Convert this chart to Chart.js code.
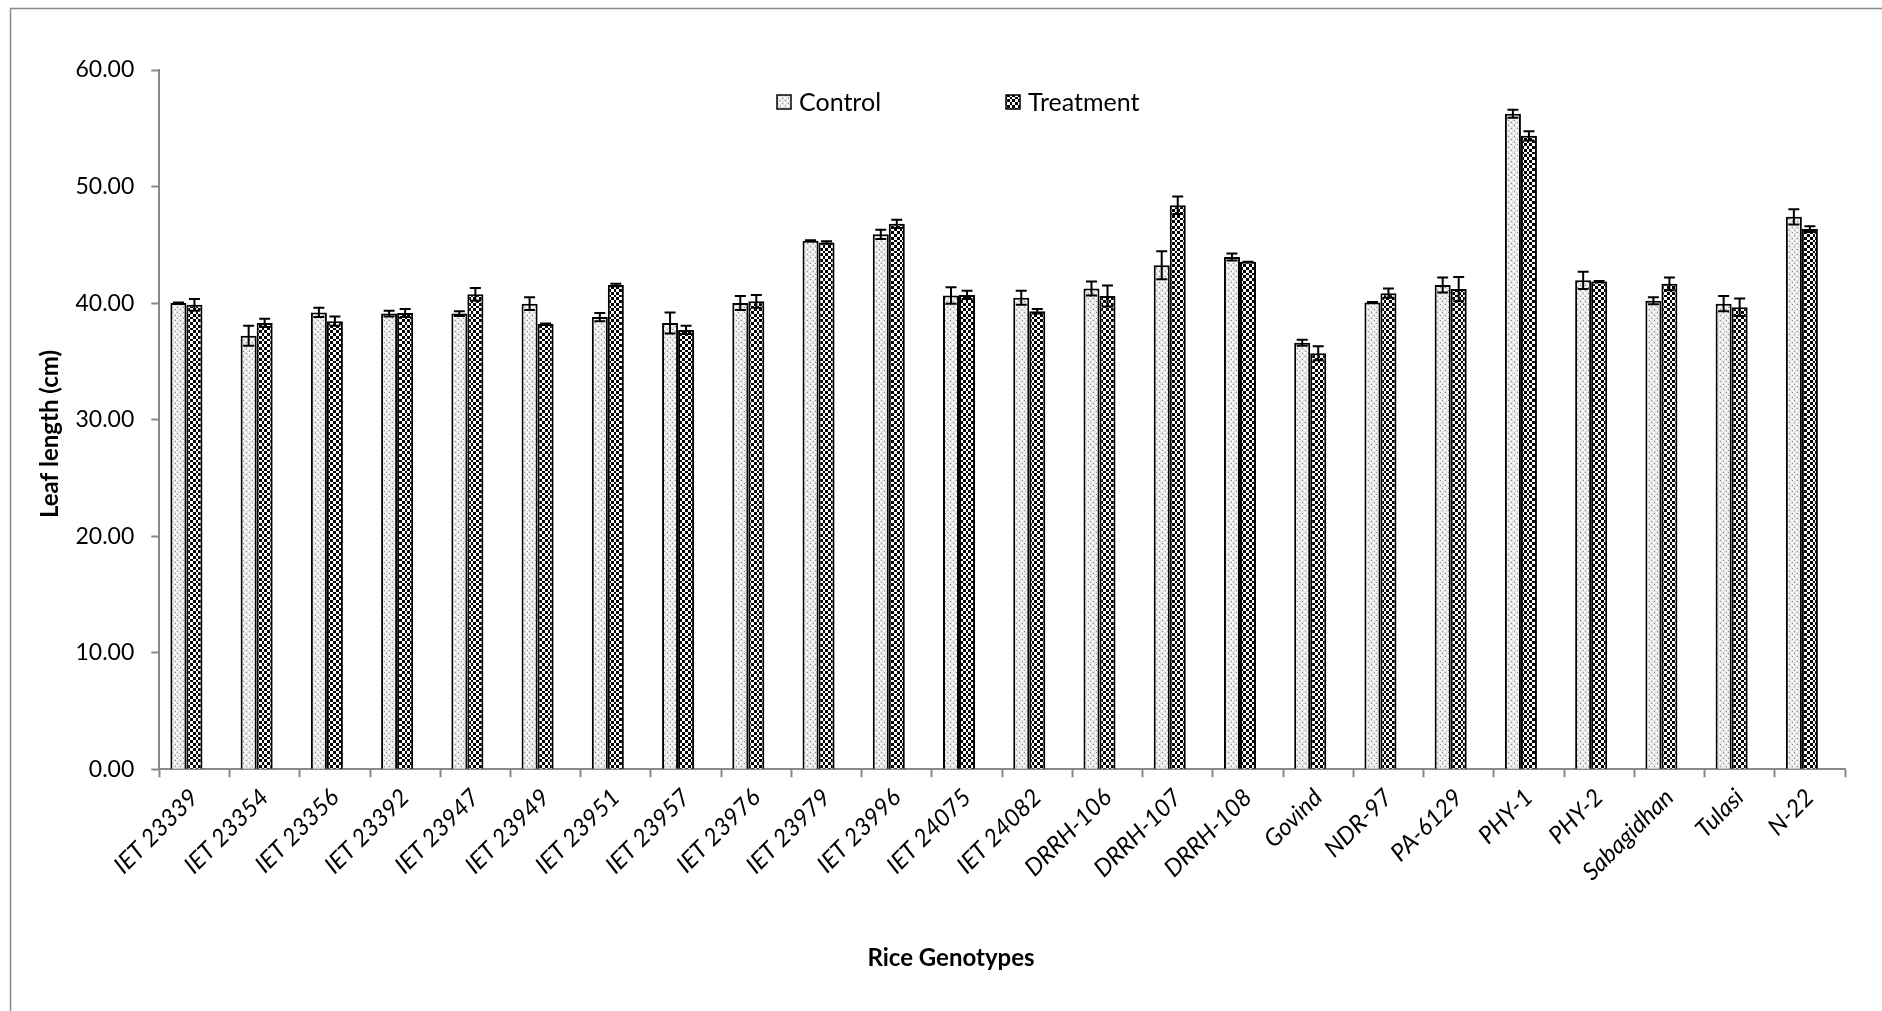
<!DOCTYPE html>
<html>
<head>
<meta charset="utf-8">
<title>Leaf length of rice genotypes</title>
<script src="https://cdn.jsdelivr.net/npm/chart.js@4.4.1/dist/chart.umd.min.js"></script>
<style>
  html, body { margin: 0; padding: 0; background: #ffffff; }
  #wrap { position: relative; width: 1882px; height: 1011px; }
</style>
</head>
<body>
<div id="wrap"><canvas id="chart" width="1882" height="1011"></canvas></div>
<script>
// Rice genotypes on the category axis
const genotypes = [
  'IET 23339', 'IET 23354', 'IET 23356', 'IET 23392', 'IET 23947', 'IET 23949',
  'IET 23951', 'IET 23957', 'IET 23976', 'IET 23979', 'IET 23996', 'IET 24075',
  'IET 24082', 'DRRH-106', 'DRRH-107', 'DRRH-108', 'Govind', 'NDR-97',
  'PA-6129', 'PHY-1', 'PHY-2', 'Sabagidhan', 'Tulasi', 'N-22'
];

// Mean leaf length (cm)
const controlMeans = [
  40.0, 37.2, 39.2, 39.1, 39.1, 39.95, 38.8, 38.3, 40.0, 45.35, 45.9, 40.65,
  40.45, 41.25, 43.25, 43.95, 36.6, 40.05, 41.55, 56.25, 41.95, 40.2, 39.95, 47.4
];
const treatmentMeans = [
  39.85, 38.3, 38.45, 39.15, 40.75, 38.2, 41.55, 37.7, 40.15, 45.2, 46.8, 40.7,
  39.3, 40.6, 48.4, 43.55, 35.7, 40.85, 41.2, 54.35, 41.85, 41.65, 39.65, 46.35
];

// Standard error of each mean (cm)
const controlErrors = [
  0.05, 0.85, 0.4, 0.25, 0.2, 0.55, 0.35, 0.9, 0.6, 0.05, 0.4, 0.7,
  0.6, 0.6, 1.2, 0.3, 0.25, 0.05, 0.65, 0.35, 0.75, 0.3, 0.65, 0.65
];
const treatmentErrors = [
  0.5, 0.35, 0.4, 0.35, 0.55, 0.05, 0.1, 0.35, 0.55, 0.1, 0.35, 0.35,
  0.2, 0.9, 0.75, 0.0, 0.6, 0.4, 1.05, 0.4, 0.05, 0.55, 0.75, 0.25
];

const seriesNames = ['Control', 'Treatment'];
const yTicks = [0, 10, 20, 30, 40, 50, 60];

const FONT = 'Lato, "Open Sans", "DejaVu Sans", sans-serif';
const AXIS_GREY = '#898989';

// cell edges inside one 11 px tile: four cells, so the checker repeats cleanly
const CELL_EDGES = [0, 3, 6, 9, 11];

// Fine dotted fill for the control bars
function dottedPattern(ctx) {
  const c = document.createElement('canvas');
  c.width = 11; c.height = 11;
  const g = c.getContext('2d');
  g.fillStyle = '#e4e4e4';
  g.fillRect(0, 0, 11, 11);
  for (let i = 0; i < 4; i++) {
    for (let j = 0; j < 4; j++) {
      const x = CELL_EDGES[i], y = CELL_EDGES[j];
      if ((i + j) % 2 === 0) {
        g.fillStyle = '#ffffff';
        g.fillRect(x, y, 2, 2);
      } else {
        g.fillStyle = '#8a8a8a';
        g.fillRect(x + 1, y + 1, 1, 1);
      }
    }
  }
  return ctx.createPattern(c, 'repeat');
}

// Black and white checkerboard fill for the treatment bars
function checkerPattern(ctx) {
  const c = document.createElement('canvas');
  c.width = 11; c.height = 11;
  const g = c.getContext('2d');
  g.fillStyle = '#ffffff';
  g.fillRect(0, 0, 11, 11);
  g.fillStyle = '#000000';
  for (let i = 0; i < 4; i++) {
    for (let j = 0; j < 4; j++) {
      if ((i + j) % 2 === 0) {
        g.fillRect(CELL_EDGES[i], CELL_EDGES[j],
          CELL_EDGES[i + 1] - CELL_EDGES[i], CELL_EDGES[j + 1] - CELL_EDGES[j]);
      }
    }
  }
  return ctx.createPattern(c, 'repeat');
}

const canvas = document.getElementById('chart');
const ctx = canvas.getContext('2d');
const controlFill = dottedPattern(ctx);
const treatmentFill = checkerPattern(ctx);

// Vertical error bars with caps, positioned from each bar element and the y scale
const errorBars = {
  id: 'errorBars',
  afterDatasetsDraw(chart, args, opts) {
    const { ctx } = chart;
    const y = chart.scales.y;
    const errs = [controlErrors, treatmentErrors];
    const means = [controlMeans, treatmentMeans];
    ctx.save();
    ctx.strokeStyle = '#000000';
    ctx.lineWidth = opts.lineWidth;
    for (let d = 0; d < 2; d++) {
      const meta = chart.getDatasetMeta(d);
      meta.data.forEach((bar, i) => {
        const hi = y.getPixelForValue(means[d][i] + errs[d][i]);
        const lo = y.getPixelForValue(means[d][i] - errs[d][i]);
        const x = bar.x;
        ctx.beginPath();
        ctx.moveTo(x, hi); ctx.lineTo(x, lo);
        ctx.moveTo(x - opts.cap, hi); ctx.lineTo(x + opts.cap, hi);
        ctx.moveTo(x - opts.cap, lo); ctx.lineTo(x + opts.cap, lo);
        ctx.stroke();
      });
    }
    ctx.restore();
  }
};

// Outer frame, legend inside the plot and the two axis titles
const decorations = {
  id: 'decorations',
  beforeDraw(chart) {
    const { ctx } = chart;
    ctx.save();
    ctx.fillStyle = '#ffffff';
    ctx.fillRect(0, 0, chart.width, chart.height);
    ctx.strokeStyle = AXIS_GREY;
    ctx.lineWidth = 1.5;
    ctx.strokeRect(10.5, 8.5, chart.width + 20, chart.height + 20);
    ctx.restore();
  },
  afterDraw(chart, args, opts) {
    const { ctx } = chart;
    ctx.save();
    ctx.font = '25px ' + FONT;
    ctx.textBaseline = 'middle';
    ctx.textAlign = 'left';
    opts.legendItems.forEach((item, k) => {
      const ds = chart.data.datasets[k];
      ctx.fillStyle = ds.backgroundColor;
      ctx.fillRect(item.x, item.y - 7, 14, 14);
      ctx.strokeStyle = '#000000';
      ctx.lineWidth = 1.5;
      ctx.strokeRect(item.x, item.y - 7, 14, 14);
      ctx.fillStyle = '#000000';
      ctx.fillText(ds.label, item.x + 22, item.y + 1);
    });
    ctx.font = 'bold 24px ' + FONT;
    ctx.textAlign = 'center';
    ctx.fillText('Rice Genotypes', opts.xTitle.x, opts.xTitle.y);
    ctx.translate(opts.yTitle.x, opts.yTitle.y);
    ctx.rotate(-Math.PI / 2);
    ctx.fillText('Leaf length (cm)', 0, 0);
    ctx.restore();
  }
};

new Chart(ctx, {
  type: 'bar',
  data: {
    labels: genotypes,
    datasets: [
      {
        label: seriesNames[0],
        data: controlMeans,
        backgroundColor: controlFill,
        borderColor: '#000000',
        borderWidth: 2,
        borderSkipped: 'start'
      },
      {
        label: seriesNames[1],
        data: treatmentMeans,
        backgroundColor: treatmentFill,
        borderColor: '#000000',
        borderWidth: 2,
        borderSkipped: 'start'
      },
      // empty third slot keeps the pair left of centre in each category
      { label: '', data: [] }
    ]
  },
  options: {
    responsive: false,
    animation: false,
    devicePixelRatio: 1,
    layout: { padding: { left: 20, right: 37, top: 70, bottom: 0 } },
    datasets: { bar: { categoryPercentage: 0.684, barPercentage: 1 } },
    plugins: {
      legend: { display: false },
      tooltip: { enabled: false },
      errorBars: { lineWidth: 2, cap: 5.5 },
      decorations: {
        legendItems: [{ x: 777, y: 102 }, { x: 1006, y: 102 }],
        xTitle: { x: 951, y: 958 },
        yTitle: { x: 50, y: 434 }
      }
    },
    scales: {
      x: {
        offset: true,
        grid: {
          display: true, drawOnChartArea: false, offset: true,
          drawTicks: true, tickLength: 8, tickColor: AXIS_GREY, tickWidth: 2
        },
        border: { display: true, color: AXIS_GREY, width: 2 },
        ticks: {
          autoSkip: false, maxRotation: 45, minRotation: 45, padding: 6,
          color: '#000000', font: { family: FONT, size: 24, style: 'italic' }
        },
        afterFit(scale) { scale.height = 241.7; }
      },
      y: {
        min: yTicks[0],
        max: yTicks[yTicks.length - 1],
        afterBuildTicks(scale) { scale.ticks = yTicks.map(v => ({ value: v })); },
        grid: {
          display: true, drawOnChartArea: false,
          drawTicks: true, tickLength: 8, tickColor: AXIS_GREY, tickWidth: 2
        },
        border: { display: true, color: AXIS_GREY, width: 2 },
        ticks: {
          padding: 17, color: '#000000',
          font: { family: FONT, size: 23 },
          callback: v => Number(v).toFixed(2)
        },
        afterFit(scale) { scale.width = 139.3; }
      }
    }
  },
  plugins: [errorBars, decorations]
});
</script>
</body>
</html>
